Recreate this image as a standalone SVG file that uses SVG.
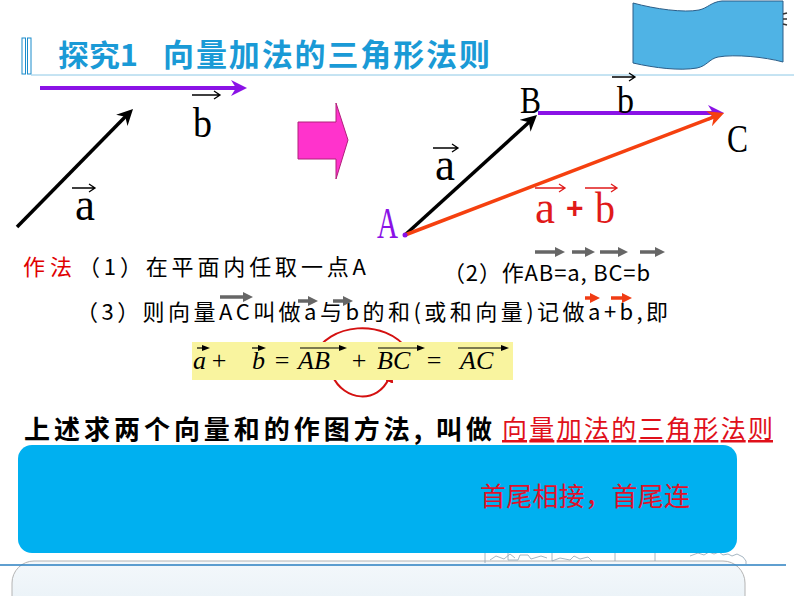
<svg xmlns="http://www.w3.org/2000/svg" width="794" height="596" viewBox="0 0 794 596">
<style>
.cjk{font-family:"Noto Sans CJK SC","Liberation Sans",sans-serif;}
.lbl{font-family:"Liberation Serif","Times New Roman",serif;}
.eq{font-family:"Liberation Serif","Times New Roman",serif;font-style:italic;font-size:26px;fill:#000;}
.op{font-family:"Liberation Serif","Times New Roman",serif;font-size:26px;fill:#000;text-anchor:middle;}
.va{fill:none;stroke:#000;stroke-width:1.3;}
.vr{fill:none;stroke:#e01a1a;stroke-width:1.3;}
.ga{stroke:#666;stroke-width:3.5;marker-end:url(#mGrey);}
.ra{stroke:#f03c14;stroke-width:3.5;marker-end:url(#mRedS);}
.ea{stroke:#000;stroke-width:1.2;marker-end:url(#mTiny);}
</style>
<defs>
<marker id="mPurple" markerUnits="userSpaceOnUse" viewBox="0 0 16 16" markerWidth="16" markerHeight="16" refX="6" refY="8" orient="auto"><path d="M0,0 L16,8 L0,16 L5,8 z" fill="#8a12e6"/></marker>
<marker id="mBlack" markerUnits="userSpaceOnUse" viewBox="0 0 16 16" markerWidth="16" markerHeight="16" refX="6" refY="8" orient="auto"><path d="M0,0 L16,8 L0,16 L5,8 z" fill="#000"/></marker>
<marker id="mRed" markerUnits="userSpaceOnUse" viewBox="0 0 16 16" markerWidth="16" markerHeight="16" refX="6" refY="8" orient="auto"><path d="M0,0 L16,8 L0,16 L5,8 z" fill="#f5400f"/></marker>
<marker id="mGrey" markerUnits="userSpaceOnUse" viewBox="0 0 10 10" markerWidth="10" markerHeight="10" refX="2" refY="5" orient="auto"><path d="M0,0 L10,5 L0,10 z" fill="#666"/></marker>
<marker id="mRedS" markerUnits="userSpaceOnUse" viewBox="0 0 10 10" markerWidth="10" markerHeight="10" refX="2" refY="5" orient="auto"><path d="M0,0 L10,5 L0,10 z" fill="#f03c14"/></marker>
<marker id="mTiny" markerUnits="userSpaceOnUse" viewBox="0 0 8 6" markerWidth="8" markerHeight="6" refX="2" refY="3" orient="auto"><path d="M0,0 L8,3 L0,6 z" fill="#000"/></marker>
<marker id="mCurve" markerUnits="userSpaceOnUse" viewBox="0 0 10 10" markerWidth="12" markerHeight="12" refX="3" refY="5" orient="auto"><path d="M0,0 L10,5 L0,10 z" fill="#d41010"/></marker>
<linearGradient id="gLow" x1="0" y1="0" x2="0" y2="1"><stop offset="0" stop-color="#f4f8fb"/><stop offset="1" stop-color="#e6f0f6"/></linearGradient>
</defs>
<rect width="794" height="596" fill="#fff"/>

<g id="header">
<path d="M633,3 C655,9 684,13 699,10 C708,8 711,2 722,1 L783,1 L783,62 C765,57 735,54 718,57 C709,59 707,66 697,68 C680,71 655,68 633,63 Z" fill="#4fb3e5" stroke="#2a5d88" stroke-width="1"/>
<path d="M783,14 l4,-1 M783,19 l4,0 M783,24 l4,1" stroke="#333" stroke-width="1.5"/>
<rect x="22" y="38" width="3.5" height="36" fill="#fff" stroke="#1a8ccc" stroke-width="1"/>
<rect x="27.5" y="38" width="3.5" height="36" fill="#fff" stroke="#1a8ccc" stroke-width="1"/>
<line x1="31" y1="75" x2="794" y2="75" stroke="#8cc8e6" stroke-width="1"/>
<text class="cjk" x="58" y="66" font-size="30" font-weight="700" fill="#1a9ad6" textLength="80" lengthAdjust="spacingAndGlyphs">探究1</text>
<text class="cjk" x="163" y="66" font-size="31" font-weight="700" fill="#1a9ad6" textLength="327">向量加法的三角形法则</text>
</g>

<g id="connectors">
<line x1="40" y1="88" x2="237" y2="88" stroke="#8a12e6" stroke-width="4" marker-end="url(#mPurple)"/>
<line x1="17" y1="227" x2="126" y2="116.1" stroke="#000" stroke-width="3.5" marker-end="url(#mBlack)"/>
<line x1="405" y1="235" x2="529.6" y2="121.7" stroke="#000" stroke-width="3.5" marker-end="url(#mBlack)"/>
<line x1="538" y1="113" x2="714" y2="113" stroke="#8a12e6" stroke-width="4" marker-end="url(#mPurple)"/>
<line x1="405" y1="235" x2="714.7" y2="116.6" stroke="#f5400f" stroke-width="3.5" marker-end="url(#mRed)"/>
<path d="M313,357 C328,322 385,318 408,350" fill="none" stroke="#d41010" stroke-width="2" marker-end="url(#mCurve)"/>
<path d="M332,375 C344,402 378,404 389,378" fill="none" stroke="#d41010" stroke-width="2" marker-end="url(#mCurve)"/>
</g>

<g id="left-vectors">
<text class="lbl" x="193" y="137" font-size="42" textLength="19" lengthAdjust="spacingAndGlyphs">b</text>
<path class="va" d="M192,95 H220 M214,91 L220,95 L214,99"/>
<text class="lbl" x="75" y="220" font-size="46" textLength="20" lengthAdjust="spacingAndGlyphs">a</text>
<path class="va" d="M72,188 H95 M89,184 L95,188 L89,192"/>
</g>

<g id="pink-arrow">
<polygon points="298,122 336,122 336,103 348,140 336,179 336,159 298,159" fill="#ff33cc" stroke="#b0207a" stroke-width="1"/>
</g>

<g id="triangle-labels">
<text class="lbl" x="520" y="113" font-size="38" textLength="21" lengthAdjust="spacingAndGlyphs">B</text>
<text class="lbl" x="617" y="113" font-size="37" textLength="17" lengthAdjust="spacingAndGlyphs">b</text>
<path class="va" d="M612,77 H635 M629,73 L635,77 L629,81"/>
<text class="lbl" x="727" y="152" font-size="40" textLength="21" lengthAdjust="spacingAndGlyphs">C</text>
<text class="lbl" x="435" y="180" font-size="46" textLength="20" lengthAdjust="spacingAndGlyphs">a</text>
<path class="va" d="M433,148 H458 M452,144 L458,148 L452,152"/>
<text class="lbl" x="377" y="238" font-size="44" fill="#8a12e6" textLength="21" lengthAdjust="spacingAndGlyphs">A</text>
<circle cx="405" cy="235" r="2.5" fill="#8a12e6"/>
<text class="lbl" x="535" y="223" font-size="46" fill="#e01a1a" textLength="20" lengthAdjust="spacingAndGlyphs">a</text>
<text x="566" y="218" font-family="Liberation Sans,sans-serif" font-size="30" font-weight="700" fill="#e01a1a">+</text>
<text class="lbl" x="595" y="223" font-size="45" fill="#e01a1a" textLength="20" lengthAdjust="spacingAndGlyphs">b</text>
<path class="vr" d="M535,188 H565 M559,184 L565,188 L559,192"/>
<path class="vr" d="M585,188 H617 M611,184 L617,188 L611,192"/>
</g>

<g id="steps">
<text class="cjk" x="23" y="275" font-size="22" fill="#e00000" textLength="49">作法</text>
<text class="cjk" x="78" y="275" font-size="22" fill="#000" textLength="288">（1）在平面内任取一点A</text>
<text class="cjk" x="443" y="281" font-size="22" fill="#000" textLength="207">（2）作AB=a, BC=b</text>
<line class="ga" x1="535" y1="252" x2="557" y2="252"/>
<line class="ga" x1="572" y1="252" x2="587" y2="252"/>
<line class="ga" x1="600" y1="252" x2="620" y2="252"/>
<line class="ga" x1="640" y1="252" x2="657" y2="252"/>
<text class="cjk" x="76" y="320" font-size="22" fill="#000" textLength="592">（3）则向量AC叫做a与b的和(或和向量)记做a+b,即</text>
<line class="ga" x1="220" y1="297" x2="245" y2="297"/>
<line class="ga" x1="298" y1="301" x2="310" y2="301"/>
<line class="ga" x1="333" y1="301" x2="345" y2="301"/>
<line class="ra" x1="585" y1="298" x2="592" y2="298"/>
<line class="ra" x1="611" y1="298" x2="624" y2="298"/>
</g>

<g id="equation">
<rect x="192" y="342" width="321" height="38" fill="#f9f49f"/>
<text class="eq" x="193" y="369">a</text>
<text class="op" x="219" y="369">+</text>
<text class="eq" x="252" y="369">b</text>
<text class="op" x="282" y="369">=</text>
<text class="eq" x="298" y="369">AB</text>
<text class="op" x="359" y="369">+</text>
<text class="eq" x="377" y="369">BC</text>
<text class="op" x="434" y="369">=</text>
<text class="eq" x="460" y="369">AC</text>
<line class="ea" x1="197" y1="348" x2="204" y2="348"/>
<line class="ea" x1="252" y1="348" x2="260" y2="348"/>
<line class="ea" x1="300" y1="348" x2="341" y2="348"/>
<line class="ea" x1="378" y1="348" x2="419" y2="348"/>
<line class="ea" x1="458" y1="348" x2="503" y2="348"/>
</g>

<g id="conclusion">
<text class="cjk" x="24" y="439" font-size="26" font-weight="700" fill="#000" textLength="468">上述求两个向量和的作图方法, 叫做</text>
<text class="cjk" x="502" y="438" font-size="25" fill="#e0101a" text-decoration="underline" textLength="271">向量加法的三角形法则</text>
</g>

<g id="bottom">
<rect x="12" y="561" width="733" height="60" rx="22" fill="url(#gLow)" stroke="#b4b4b4" stroke-width="1"/>
<path d="M485,563 V553 M490,560 l6,-4 l8,3 l6,-5 l5,4 M508,553 v7 l10,0 l2,-5 l8,0 l3,4 l10,-3 l6,2 M552,553 v8 l8,-3 l10,2 l4,-4 l6,3 l8,-2 l4,4 M615,553 v8 M655,553 v8 M690,556 l8,-3 l6,2 l5,-3 l5,2 l5,-2 l4,3 l5,-1 l4,2 l5,-2 l6,3 l3,4 v3" fill="none" stroke="#8fa3b3" stroke-width="0.8"/>
<rect x="18" y="445" width="719" height="108" rx="14" fill="#00b0f0"/>
<line x1="0" y1="565" x2="786" y2="565" stroke="#2a7fc0" stroke-width="1.5"/>
<text class="cjk" x="480" y="506" font-size="26" fill="#e0102a" textLength="210">首尾相接，首尾连</text>
</g>
</svg>
